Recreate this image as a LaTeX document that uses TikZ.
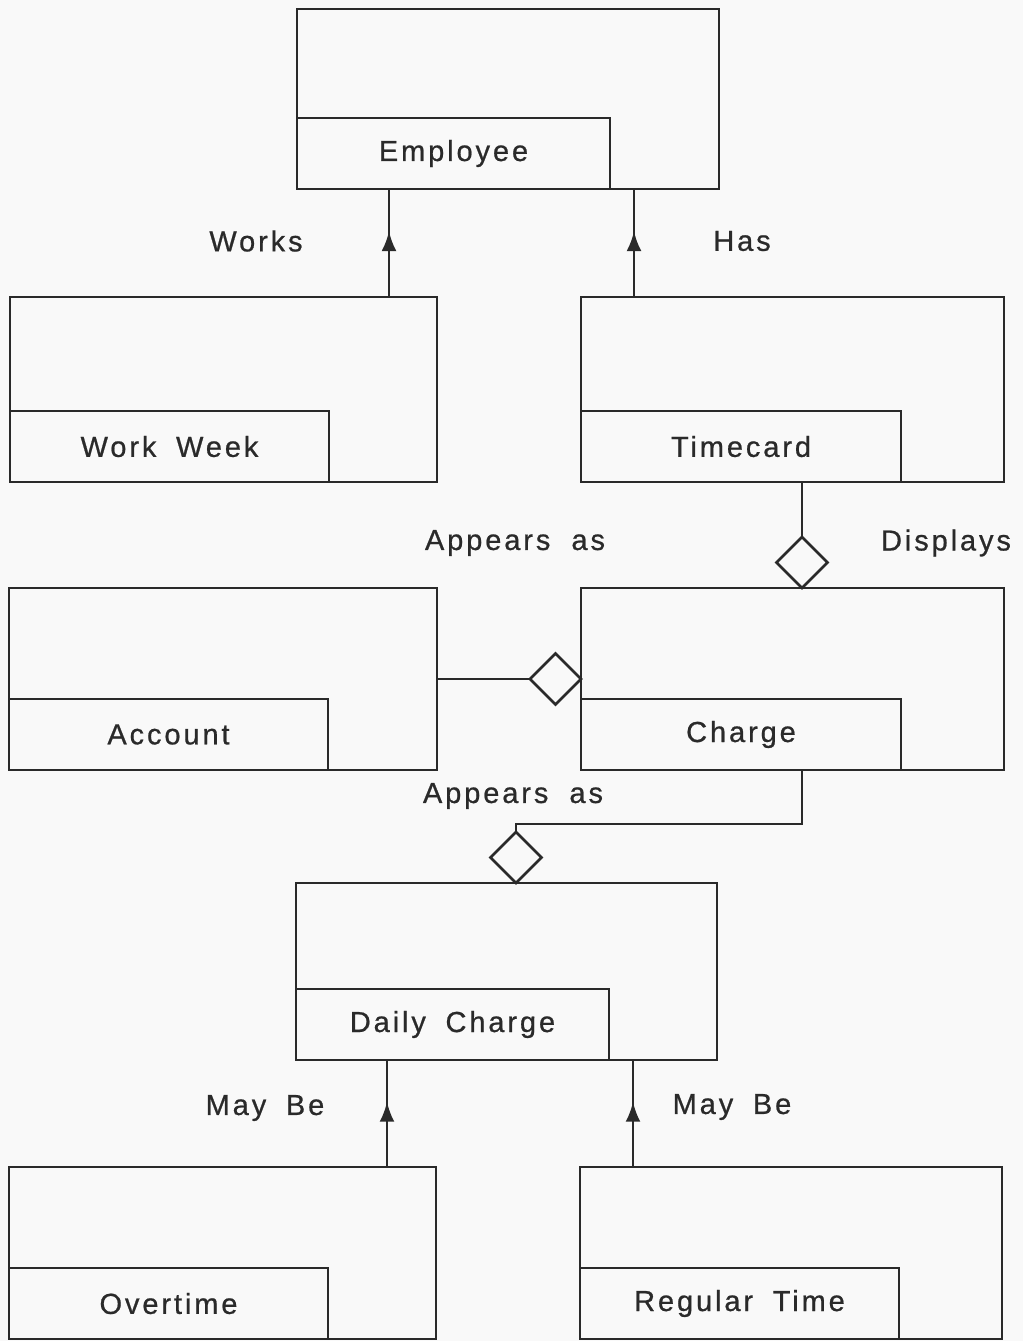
\documentclass[tikz,border=0pt]{standalone}
\usepackage{fontspec}
\setmainfont{Liberation Sans}
\newfontfamily\labfont[LetterSpace=10,FakeBold=0.7]{Liberation Sans}
\usetikzlibrary{calc,arrows.meta,shapes.geometric,decorations.markings}
\definecolor{ink}{HTML}{2A2A2A}
\definecolor{paper}{HTML}{F9F9F9}
\begin{document}
\begin{tikzpicture}[x=1pt,y=-1pt,
  ent/.style={draw=ink, line width=2.8pt, inner sep=0pt, outer sep=0pt, anchor=north west},
  lab/.style={draw=ink, line width=2.8pt, inner sep=0pt, outer sep=0pt, anchor=south west,
    minimum height=71pt, text=ink, font=\labfont\fontsize{29}{31}\selectfont},
  rel/.style={text=ink, font=\labfont\fontsize{29}{31}\selectfont, inner sep=0pt},
  conn/.style={draw=ink, line width=2.8pt},
  dia/.style={diamond, draw=ink, line width=2.6pt, fill=paper, minimum width=51pt,
    minimum height=51pt, inner sep=0pt, outer sep=0pt},
  arr/.style={conn, postaction={decorate}, decoration={markings,
    mark=at position 0.61 with {\arrow[ink]{Latex[length=20pt,width=15pt]}}}}
]
\fill[paper] (0,0) rectangle (1023,1341);
\useasboundingbox (0,0) rectangle (1023,1341);

% entity boxes with their name tabs
\node[ent, minimum width=422pt, minimum height=180pt] (emp) at (297,9) {};
\node[lab, minimum width=313pt] (empL) at (emp.south west) {Employee};

\node[ent, minimum width=427pt, minimum height=185pt] (ww) at (10,297) {};
\node[lab, minimum width=319pt] (wwL) at (ww.south west) {Work\hspace{0.3em} Week};

\node[ent, minimum width=423pt, minimum height=185pt] (tc) at (581,297) {};
\node[lab, minimum width=320pt] (tcL) at (tc.south west) {Timecard};

\node[ent, minimum width=428pt, minimum height=182pt] (acc) at (9,588) {};
\node[lab, minimum width=319pt] (accL) at (acc.south west) {Account};

\node[ent, minimum width=423pt, minimum height=182pt] (ch) at (581,588) {};
\node[lab, minimum width=320pt] (chL) at (ch.south west) {Charge};

\node[ent, minimum width=421pt, minimum height=177pt] (dc) at (296,883) {};
\node[lab, minimum width=313pt] (dcL) at (dc.south west) {Daily\hspace{0.3em} Charge};

\node[ent, minimum width=427pt, minimum height=172pt] (ot) at (9,1167) {};
\node[lab, minimum width=319pt] (otL) at (ot.south west) {Overtime};

\node[ent, minimum width=422pt, minimum height=172pt] (rt) at (580,1167) {};
\node[lab, minimum width=319pt] (rtL) at (rt.south west) {Regular\hspace{0.3em} Time};

% generalisation arrows
\draw[arr] ($(ww.north west)+(379,0)$) -- ($(emp.south west)+(92,0)$);
\draw[arr] ($(tc.north west)+(53,0)$) -- ($(emp.south west)+(337,0)$);
\draw[arr] ($(ot.north west)+(378,0)$) -- ($(dc.south west)+(91,0)$);
\draw[arr] ($(rt.north west)+(53,0)$) -- ($(dc.south west)+(337,0)$);

% aggregation diamonds
\node[dia, anchor=south] (d1) at ($(ch.north west)+(221,0)$) {};
\draw[conn] ($(tc.south west)+(221,0)$) -- (d1.north);

\node[dia, anchor=east] (d2) at (ch.west) {};
\draw[conn] (acc.east) -- (d2.west);

\node[dia, anchor=south] (d3) at ($(dc.north west)+(220,0)$) {};
\draw[conn] ($(ch.south west)+(221,0)$) |- ($(d3.north)+(0,-8)$) -- (d3.north);

% relationship names
\node[rel] (rWorks) at (256,241) {Works};
\node[rel] (rHas) at (742,241) {Has};
\node[rel] (rApp1) at (515,543) {Appears\hspace{0.35em} as};
\node[rel] (rDisp) at (946,543) {Displays};
\node[rel] (rApp2) at (513,796) {Appears\hspace{0.35em} as};
\node[rel] (rMay1) at (265,1108) {May\hspace{0.3em} Be};
\node[rel] (rMay2) at (732,1107) {May\hspace{0.3em} Be};
\end{tikzpicture}
\end{document}
